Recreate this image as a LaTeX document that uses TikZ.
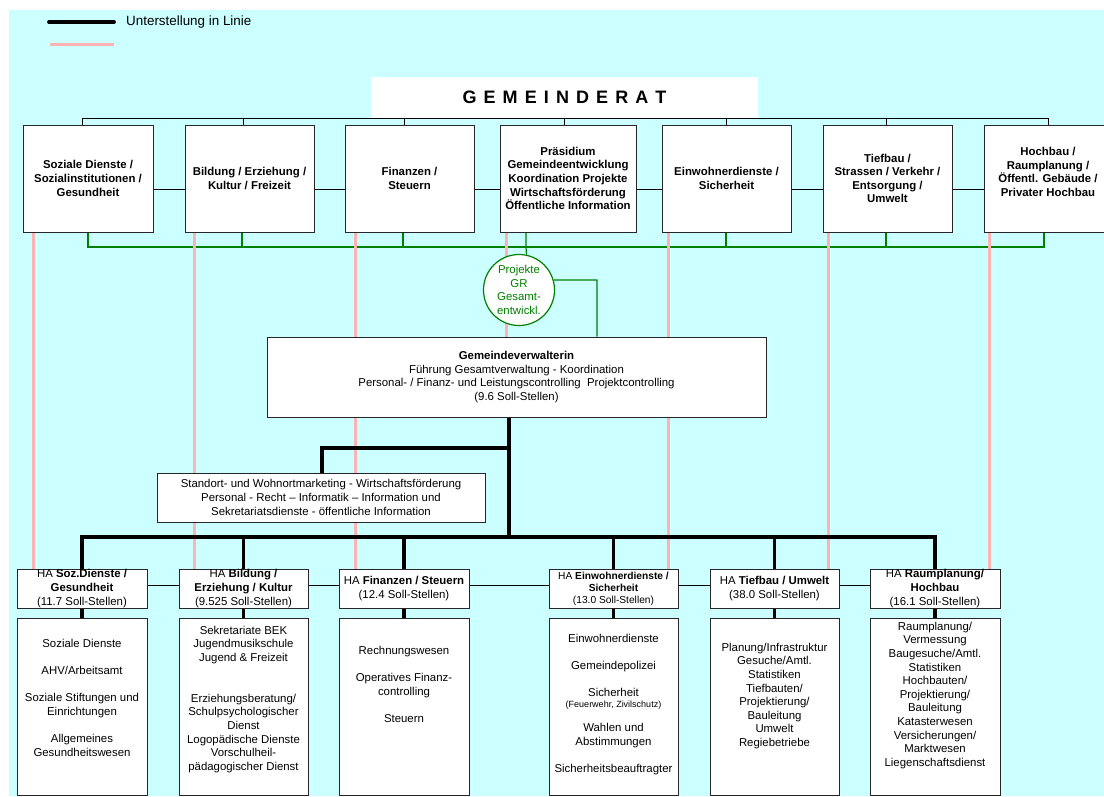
\documentclass[tikz,border=0pt]{standalone}
\usepackage{fontspec}
\setmainfont{Liberation Sans}
\definecolor{bgcyan}{RGB}{204,255,255}
\definecolor{pinkl}{RGB}{255,178,178}
\definecolor{grn}{RGB}{0,128,0}
\pgfdeclarelayer{bglayer}
\pgfdeclarelayer{wires}
\pgfsetlayers{bglayer,wires,main}
\newcommand\gsp{\hspace{7.1pt}}
\tikzset{
  txt/.style={font=\fontsize{11.4}{13.6}\selectfont, inner sep=0pt, align=center},
  nbox/.style={txt, draw=black!85, line width=0.9pt, fill=white},
  topbox/.style={nbox, minimum height=107pt, font=\fontsize{11.4}{13.6}\selectfont\bfseries},
  habox/.style={nbox, minimum height=39pt, font=\fontsize{11.4}{14}\selectfont},
  lowbox/.style={nbox, minimum height=177pt},
  pinkline/.style={draw=pinkl, line width=3pt},
  greenline/.style={draw=grn, line width=1.2pt},
  thinline/.style={draw=black, line width=0.9pt},
  thickline/.style={draw=black, line width=3.2pt}
}
\begin{document}
\begin{tikzpicture}[x=1pt,y=-1pt]
\useasboundingbox (0,0) rectangle (1104,796);
\begin{pgfonlayer}{bglayer}
\fill[bgcyan] (9,10) rectangle (1104,796);
\end{pgfonlayer}

% legend
\coordinate (la) at (49,22);
\coordinate (lb) at (114,22);
\coordinate (lc) at (49.5,44.3);
\coordinate (ld) at (114,44.3);
\draw[line width=3.8pt, line cap=round] (la) -- (lb);
\draw[pinkline, line width=3.5pt] (lc) -- (ld);
\node[anchor=base west, inner sep=0pt, font=\fontsize{13.4}{15}\selectfont] (lt) at (126,25.5) {Unterstellung in Linie};

% Gemeinderat
\node[fill=white, inner sep=0pt, minimum width=387pt, minimum height=41.2pt,
      font=\fontsize{18}{20}\selectfont\bfseries] (gr) at (564.5,97.6)
  {G\gsp E\gsp M\gsp E\gsp I\gsp N\gsp D\gsp E\gsp R\gsp A\gsp T};

% top row
\node[topbox, minimum width=130pt] (t1) at (88,178.5) {Soziale Dienste /\\Sozialinstitutionen /\\Gesundheit};
\node[topbox, minimum width=129pt] (t2) at (249.5,178.5) {Bildung / Erziehung /\\Kultur / Freizeit};
\node[topbox, minimum width=129pt] (t3) at (409.5,178.5) {Finanzen /\\Steuern};
\node[topbox, minimum width=136pt] (t4) at (568,178.5) {Präsidium\\Gemeindeentwicklung\\Koordination Projekte\\Wirtschaftsförderung\\Öffentliche Information};
\node[topbox, minimum width=129pt] (t5) at (726.5,178.5) {Einwohnerdienste /\\Sicherheit};
\node[topbox, minimum width=129pt] (t6) at (887.5,178.5) {Tiefbau /\\Strassen / Verkehr /\\Entsorgung /\\Umwelt};
\node[topbox, minimum width=128pt] (t7) at (1048,178.5) {Hochbau /\\Raumplanung /\\Öffentl. Gebäude /\\Privater Hochbau\\\mbox{}};

% circle
\node[txt, circle, draw=grn, line width=1.2pt, fill=white, text=grn, minimum size=71pt] (pr) at (519,290) {Projekte\\GR\\Gesamt-\\entwickl.};

% Gemeindeverwalterin
\node[nbox, minimum width=499pt, minimum height=80pt] (gv) at (516.5,377)
  {\textbf{Gemeindeverwalterin}\\Führung Gesamtverwaltung - Koordination\\Personal- / Finanz- und Leistungscontrolling\ \ Projektcontrolling\\(9.6 Soll-Stellen)};

% Standort box
\node[nbox, minimum width=328pt, minimum height=49pt] (sd) at (321,497.5)
  {Standort- und Wohnortmarketing - Wirtschaftsförderung\\Personal - Recht – Informatik – Information und\\Sekretariatsdienste - öffentliche Information};

% HA row
\node[habox, minimum width=130pt] (h1) at (82,588.5) {HA \textbf{Soz.Dienste /}\\\textbf{Gesundheit}\\(11.7 Soll-Stellen)};
\node[habox, minimum width=129pt] (h2) at (243.5,588.5) {HA \textbf{Bildung /}\\\textbf{Erziehung / Kultur}\\(9.525 Soll-Stellen)};
\node[habox, minimum width=130pt] (h3) at (404,588.5) {HA \textbf{Finanzen / Steuern}\\(12.4 Soll-Stellen)};
\node[habox, minimum width=129pt, font=\fontsize{10.2}{12}\selectfont] (h4) at (613.5,588.5) {HA \textbf{Einwohnerdienste /}\\\textbf{Sicherheit}\\(13.0 Soll-Stellen)};
\node[habox, minimum width=129pt, font=\fontsize{11.4}{14.5}\selectfont] (h5) at (774.5,588.5) {HA \textbf{Tiefbau / Umwelt}\\(38.0 Soll-Stellen)};
\node[habox, minimum width=130pt] (h6) at (935,588.5) {HA \textbf{Raumplanung/}\\\textbf{Hochbau}\\(16.1 Soll-Stellen)};

% bottom boxes
\node[lowbox, minimum width=130pt] (b1) at (82,706.5) {};
\node[lowbox, minimum width=129pt] (b2) at (243.5,706.5) {};
\node[lowbox, minimum width=130pt] (b3) at (404,706.5) {};
\node[lowbox, minimum width=129pt] (b4) at (613.5,706.5) {};
\node[lowbox, minimum width=129pt] (b5) at (774.5,706.5) {};
\node[lowbox, minimum width=130pt] (b6) at (935,706.5) {};

\node[txt, anchor=north] (bt1) at (82,638.8) {Soziale Dienste\\[13.6pt]AHV/Arbeitsamt\\[13.6pt]Soziale Stiftungen und\\Einrichtungen\\[13.6pt]Allgemeines\\Gesundheitswesen};
\node[txt, anchor=north] (bt2) at (243.5,625.8) {Sekretariate BEK\\Jugendmusikschule\\Jugend \& Freizeit\\[27.2pt]Erziehungsberatung/\\Schulpsychologischer\\Dienst\\Logopädische Dienste\\Vorschulheil-\\pädagogischer Dienst};
\node[txt, anchor=north] (bt3) at (404,645.8) {Rechnungswesen\\[13.6pt]Operatives Finanz-\\controlling\\[13.6pt]Steuern};
\node[txt, anchor=north] (bt4) at (613.5,633.8) {Einwohnerdienste\\[13.6pt]Gemeindepolizei\\[13.6pt]Sicherheit\\[-2.6pt]{\fontsize{9}{10}\selectfont(Feuerwehr, Zivilschutz)}\\[10.4pt]Wahlen und\\Abstimmungen\\[13.6pt]Sicherheitsbeauftragter};
\node[txt, anchor=north] (bt5) at (774.5,642.8) {Planung/Infrastruktur\\Gesuche/Amtl.\\Statistiken\\Tiefbauten/\\Projektierung/\\Bauleitung\\Umwelt\\Regiebetriebe};
\node[txt, anchor=north] (bt6) at (935,621.8) {Raumplanung/\\Vermessung\\Baugesuche/Amtl.\\Statistiken\\Hochbauten/\\Projektierung/\\Bauleitung\\Katasterwesen\\Versicherungen/\\Marktwesen\\Liegenschaftsdienst};

\begin{pgfonlayer}{wires}
% green lines
\coordinate (g1) at (88,247);
\coordinate (g2) at (242,247);
\coordinate (g3) at (403,247);
\coordinate (g4) at (526,247);
\coordinate (g5) at (726,247);
\coordinate (g6) at (886,247);
\coordinate (g7) at (1044,247);
\coordinate (g8) at (597,280);
\draw[greenline] (g1 |- t1.south) -- (g1) -- (g7) -- (g7 |- t7.south);
\draw[greenline] (g2 |- t2.south) -- (g2);
\draw[greenline] (g3 |- t3.south) -- (g3);
\draw[greenline] (g4 |- t4.south) -- (g4) -- (pr.78.6);
\draw[greenline] (g5 |- t5.south) -- (g5);
\draw[greenline] (g6 |- t6.south) -- (g6);
\draw[greenline] (pr.16.4) -- (g8) -- (g8 |- gv.north);

% pink lines
\coordinate (p1) at (33,0);
\coordinate (p2) at (194,0);
\coordinate (p3) at (355,0);
\coordinate (p4) at (506,0);
\coordinate (p5) at (668,0);
\coordinate (p6) at (828,0);
\coordinate (p7) at (989,0);
\draw[pinkline] (p1 |- t1.south) -- (p1 |- h1.north);
\draw[pinkline] (p2 |- t2.south) -- (p2 |- h2.north);
\draw[pinkline] (p3 |- t3.south) -- (p3 |- h3.north);
\draw[pinkline] (p4 |- t4.south) -- (p4 |- gv.north);
\draw[pinkline] (p5 |- t5.south) -- (p5 |- h4.north);
\draw[pinkline] (p6 |- t6.south) -- (p6 |- h5.north);
\draw[pinkline] (p7 |- t7.south) -- (p7 |- h6.north);

% top black bus
\coordinate (d1) at (82,118.7);
\coordinate (d2) at (243,118.7);
\coordinate (d3) at (404,118.7);
\coordinate (d4) at (564,118.7);
\coordinate (d5) at (726,118.7);
\coordinate (d6) at (886,118.7);
\coordinate (d7) at (1048,118.7);
\draw[thinline] (d1 |- t1.north) -- (d1) -- (d7) -- (d7 |- t7.north);
\draw[thinline] (d2) -- (d2 |- t2.north);
\draw[thinline] (d3) -- (d3 |- t3.north);
\draw[thinline] (d4) -- (d4 |- t4.north);
\draw[thinline] (d5) -- (d5 |- t5.north);
\draw[thinline] (d6) -- (d6 |- t6.north);

% thin side connectors
\coordinate (ty) at (0,189);
\coordinate (hy) at (0,585.5);
\draw[thinline] (t1.east |- ty) -- (t7.west |- ty);
\draw[thinline] (h1.east |- hy) -- (h6.west |- hy);

% thick black lines
\coordinate (j0) at (509,537);
\coordinate (j1) at (509,448);
\coordinate (j2) at (322,448);
\draw[thickline] (j0 |- gv.south) -- (j0);
\draw[thickline] (j1) -- (j2) -- (j2 |- sd.north);
\draw[thickline] (h1.north) -- (h1.north |- j0) -- (h6.north |- j0) -- (h6.north);
\draw[thickline] (h2.north |- j0) -- (h2.north);
\draw[thickline] (h3.north |- j0) -- (h3.north);
\draw[thickline] (h4.north |- j0) -- (h4.north);
\draw[thickline] (h5.north |- j0) -- (h5.north);
\draw[thickline] (h1.south) -- (b1.north);
\draw[thickline] (h2.south) -- (b2.north);
\draw[thickline] (h3.south) -- (b3.north);
\draw[thickline] (h4.south) -- (b4.north);
\draw[thickline] (h5.south) -- (b5.north);
\draw[thickline] (h6.south) -- (b6.north);
\end{pgfonlayer}
\end{tikzpicture}
\end{document}
